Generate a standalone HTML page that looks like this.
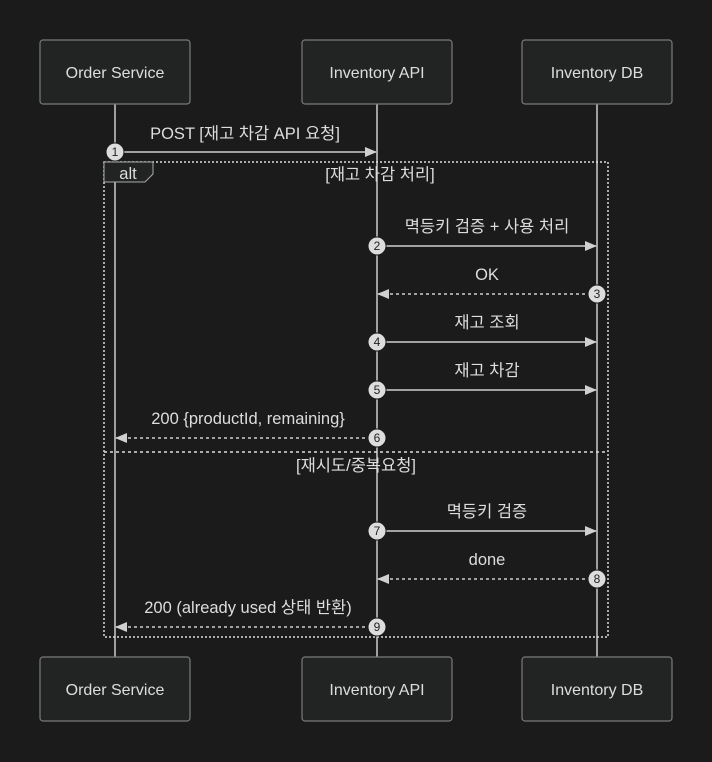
<!DOCTYPE html>
<html><head><meta charset="utf-8"><style>
html,body{margin:0;padding:0;background:#1b1b1c;}
svg{display:block;font-family:"Liberation Sans","Noto Sans CJK KR",sans-serif;}
</style></head><body>
<svg width="712" height="762" viewBox="0 0 712 762" xmlns="http://www.w3.org/2000/svg">
<defs>
<marker id="ah" markerWidth="12" markerHeight="10" refX="11" refY="5" orient="auto" markerUnits="userSpaceOnUse">
<path d="M0,0 L12,5 L0,10 z" fill="#d0d0d0"/></marker>
</defs>
<rect width="712" height="762" fill="#1b1b1c"/>
<g stroke="#cccccc" stroke-width="1.5">
<line x1="115" y1="104" x2="115" y2="657"/>
<line x1="377" y1="104" x2="377" y2="657"/>
<line x1="597" y1="104" x2="597" y2="657"/>
</g>
<g fill="#222424" stroke="#7a7a7a" stroke-width="1.2">
<rect x="40" y="40" width="150" height="64" rx="3"/>
<rect x="302" y="40" width="150" height="64" rx="3"/>
<rect x="522" y="40" width="150" height="64" rx="3"/>
<rect x="40" y="657" width="150" height="64" rx="3"/>
<rect x="302" y="657" width="150" height="64" rx="3"/>
<rect x="522" y="657" width="150" height="64" rx="3"/>
</g>
<g fill="#dddddd" font-size="16" text-anchor="middle">
<text x="115" y="78">Order Service</text>
<text x="377" y="78">Inventory API</text>
<text x="597" y="78">Inventory DB</text>
<text x="115" y="695">Order Service</text>
<text x="377" y="695">Inventory API</text>
<text x="597" y="695">Inventory DB</text>
</g>
<rect x="104" y="162" width="504" height="475" fill="none" stroke="#dddddd" stroke-width="1.5" stroke-dasharray="2,2"/>
<line x1="104" y1="452" x2="608" y2="452" stroke="#dddddd" stroke-width="1.5" stroke-dasharray="3,3"/>
<path d="M104,162 H153 V174 L145,182 H104 Z" fill="#222424" stroke="#aaaaaa" stroke-width="1"/>
<g fill="#dddddd" font-size="16.5" text-anchor="middle">
<text x="128" y="179">alt</text>
<text x="380" y="180">[재고 차감 처리]</text>
<text x="356" y="471">[재시도/중복요청]</text>
<text x="245" y="139">POST [재고 차감 API 요청]</text>
<text x="487" y="232">멱등키 검증 + 사용 처리</text>
<text x="487" y="280">OK</text>
<text x="487" y="328">재고 조회</text>
<text x="487" y="376">재고 차감</text>
<text x="248" y="424">200 {productId, remaining}</text>
<text x="487" y="517">멱등키 검증</text>
<text x="487" y="565">done</text>
<text x="248" y="613">200 (already used 상태 반환)</text>
</g>
<g stroke="#d0d0d0" stroke-width="1.5" fill="none" marker-end="url(#ah)">
<line x1="115" y1="152" x2="376" y2="152"/>
<line x1="377" y1="246" x2="596" y2="246"/>
<line x1="597" y1="294" x2="378" y2="294" stroke-dasharray="3,3"/>
<line x1="377" y1="342" x2="596" y2="342"/>
<line x1="377" y1="390" x2="596" y2="390"/>
<line x1="377" y1="438" x2="116" y2="438" stroke-dasharray="3,3"/>
<line x1="377" y1="531" x2="596" y2="531"/>
<line x1="597" y1="579" x2="378" y2="579" stroke-dasharray="3,3"/>
<line x1="377" y1="627" x2="116" y2="627" stroke-dasharray="3,3"/>
</g>
<g fill="#dddddd" stroke="#1b1b1c" stroke-width="1">
<circle cx="115" cy="152" r="9"/>
<circle cx="377" cy="246" r="9"/>
<circle cx="597" cy="294" r="9"/>
<circle cx="377" cy="342" r="9"/>
<circle cx="377" cy="390" r="9"/>
<circle cx="377" cy="438" r="9"/>
<circle cx="377" cy="531" r="9"/>
<circle cx="597" cy="579" r="9"/>
<circle cx="377" cy="627" r="9"/>
</g>
<g fill="#222222" font-size="12" text-anchor="middle">
<text x="115" y="156">1</text>
<text x="377" y="250">2</text>
<text x="597" y="298">3</text>
<text x="377" y="346">4</text>
<text x="377" y="394">5</text>
<text x="377" y="442">6</text>
<text x="377" y="535">7</text>
<text x="597" y="583">8</text>
<text x="377" y="631">9</text>
</g>
</svg>
</body></html>
